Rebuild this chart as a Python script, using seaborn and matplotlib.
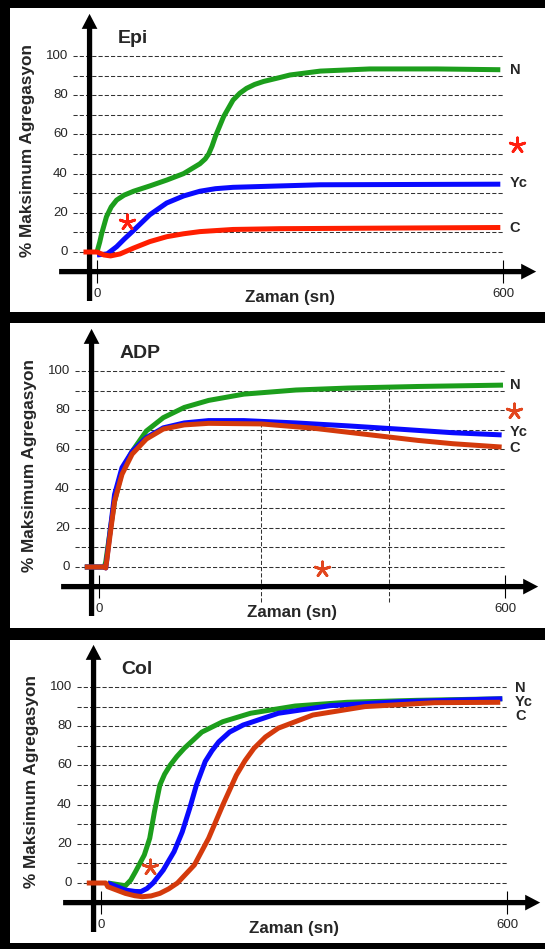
import matplotlib
matplotlib.use("Agg")
import pandas as pd
import matplotlib.pyplot as plt
import seaborn as sns

sns.set_style("white")
plt.rcParams['font.family'] = ['Liberation Sans', 'DejaVu Sans']

# -----------------------------
# Data (time in s, % maximum aggregation)
# -----------------------------
epi_n_t = [0, 4, 7, 14, 21, 29, 40, 54, 78, 103, 128, 152, 160, 165, 170, 175, 187, 201, 211, 221, 233, 246, 270, 285, 330, 403, 502, 596]
epi_n_v = [0, 5, 9.5, 18, 23, 26.5, 29, 31, 33.7, 36.7, 40, 45, 47.5, 50, 54, 59, 69, 77.5, 81, 83.5, 85.5, 87, 89, 90.3, 92.3, 93.4, 93.4, 93]
epi_yc_t = [0, 15, 29, 40, 54, 78, 103, 128, 152, 175, 201, 270, 330, 596]
epi_yc_v = [-1.5, -1, 2.7, 6.5, 11, 19, 25, 28.6, 31, 32.3, 33, 33.7, 34.3, 34.6]
epi_c_t = [-20, 0, 10, 20, 34, 54, 78, 103, 128, 152, 201, 270, 596]
epi_c_v = [0, 0, -1.5, -2, -1, 2, 5.3, 7.8, 9.3, 10.4, 11.5, 11.9, 12.5]

adp_n_t = [-21, 8, 10, 17, 23, 34, 49, 70, 95, 126, 162, 214, 291, 368, 471, 597]
adp_n_v = [0, 0, 2.7, 19.8, 33.5, 49, 59, 69.4, 76.2, 81.4, 85, 88.2, 90.3, 91.3, 92.1, 92.8]
adp_yc_t = [-21, 8, 10, 17, 23, 34, 49, 70, 95, 126, 162, 214, 291, 368, 445, 523, 595]
adp_yc_v = [0, 0, -0.5, 20, 37, 50.7, 59, 66, 71, 73.5, 74.7, 74.7, 73.5, 72, 70.3, 68.5, 67.4]
adp_c_t = [-21, 8, 10, 17, 23, 34, 49, 70, 95, 126, 162, 240, 317, 394, 471, 523, 595]
adp_c_v = [0, 0, -0.5, 18, 33.5, 47.3, 57.6, 65.3, 70.4, 72.5, 73.3, 73, 70.8, 67.7, 64.6, 62.9, 61.2]

col_n_t = [10, 25, 36, 44, 51, 64, 72, 79, 87, 94, 102, 112, 123, 149, 180, 221, 287, 364, 467, 593]
col_n_v = [0, -0.8, -1.4, 1.5, 5.8, 14.3, 22.8, 36.4, 50, 55.5, 60, 64.5, 68.7, 77, 82.3, 86.6, 90.3, 92.2, 93.2, 94]
col_yc_t = [10, 36, 50, 59, 68, 77, 92, 108, 120, 131, 141, 154, 164, 174, 190, 210, 262, 339, 441, 593]
col_yc_v = [0, -3.6, -4.3, -4.4, -2.8, 0, 6.6, 16, 26, 38, 50, 62, 67.5, 72, 77, 80.6, 86.6, 90.5, 92.5, 94]
col_c_t = [-21, 7, 10, 36, 50, 61, 74, 87, 100, 113, 138, 159, 180, 200, 213, 226, 243, 262, 313, 390, 493, 590]
col_c_v = [0, 0, -1.9, -5.3, -6.5, -7, -6.6, -5.3, -3, 0, 9.2, 22.8, 39.8, 55, 62.5, 68.7, 74.5, 79, 85.7, 90, 92, 92.2]

groups = ["N", "Yc", "C"]
y_ticks = [0, 20, 40, 60, 80, 100]
grid_levels = list(range(0, 101, 10))

# asterisks (time, value)
epi_stars_t = [44, 621]
epi_stars_v = [15.3, 54.6]
adp_stars_t = [329, 613]
adp_stars_v = [-1, 79.5]
col_stars_t = [72]
col_stars_v = [8.2]

# end labels
epi_label_v = [93, 35, 12]
adp_label_v = [92.8, 68.7, 60.5]
col_label_v = [99.5, 92.3, 85.2]

GREEN = "#1c9e1c"
BLUE = "#0a0aff"

# -----------------------------
# Layout (pixels of the 545x949 canvas)
# -----------------------------
W, H = 545, 949
PX_S = 0.6767   # px per second
PX_V = 1.96     # px per % unit

fig = plt.figure(figsize=(5.45, 9.49), dpi=100, facecolor="black")


def make_axes(top, bottom, x0, v0):
    ax = fig.add_axes([10 / W, 1 - bottom / H, 535 / W, (bottom - top) / H])
    ax.set_xlim((10 - x0) / PX_S, (545 - x0) / PX_S)
    ax.set_ylim((v0 - bottom) / PX_V, (v0 - top) / PX_V)
    ax.set_facecolor("white")
    ax.set_xticks([])
    ax.set_yticks([])
    for sp in ax.spines.values():
        sp.set_visible(False)
    return ax


def draw_panel(ax, title, series, red, star_color, stars_t, stars_v, label_x, label_v, vlines=None):
    # dashed grid
    ax.hlines(grid_levels, -35, 602, colors="#333333", lw=0.75, ls=(0, (4, 2)), zorder=1)
    if vlines:
        for xv, top in vlines:
            ax.vlines(xv, -18, top, colors="#333333", lw=0.75, ls=(0, (4, 2)), zorder=1)

    # axes arrows
    style = "simple,head_length=1.08,head_width=1.13,tail_width=0.38"
    ax.annotate("", xy=(-11, 121.5), xytext=(-11, -25),
                arrowprops=dict(arrowstyle=style, mutation_scale=10, fc="black", ec="none",
                                shrinkA=0, shrinkB=0), zorder=2)
    ax.annotate("", xy=(649, -10), xytext=(-56, -10),
                arrowprops=dict(arrowstyle=style, mutation_scale=10, fc="black", ec="none",
                                shrinkA=0, shrinkB=0), zorder=2)
    ax.vlines([0, 600], -16, -4, colors="black", lw=0.8, zorder=2)

    # tick labels and axis titles
    for t in y_ticks:
        ax.text(-43, t, str(t), ha="right", va="center", fontsize=9.5)
    ax.text(0, -21.5, "0", ha="center", va="center", fontsize=9.5)
    ax.text(600, -21.5, "600", ha="center", va="center", fontsize=9.5)
    ax.text(-103, 52, "% Maksimum Agregasyon", rotation=90, ha="center", va="center",
            fontsize=12.4, fontweight="bold")
    ax.text(285, -23, "Zaman (sn)", ha="center", va="center", fontsize=12.2, fontweight="bold")
    ax.text(30, 109, title, ha="left", va="center", fontsize=14, fontweight="bold")

    # curves
    rows = []
    for g, (tt, vv) in zip(groups, series):
        rows += [{"t": a, "v": b, "g": g} for a, b in zip(tt, vv)]
    df = pd.DataFrame(rows)
    sns.lineplot(data=df, x="t", y="v", hue="g", hue_order=groups,
                 palette={"N": GREEN, "Yc": BLUE, "C": red}, estimator=None, sort=False,
                 lw=3.6, legend=False, ax=ax, zorder=3,
                 solid_joinstyle="round", solid_capstyle="butt")
    ax.set_xlabel("")
    ax.set_ylabel("")

    # group labels and asterisks
    for g, v in zip(groups, label_v):
        ax.text(label_x, v, g, ha="left", va="center", fontsize=10.5, fontweight="bold")
    ax.scatter(stars_t, stars_v, marker=(5, 2, 0), s=120, color=star_color, lw=2.0, zorder=4)


ax1 = make_axes(8, 312, 97, 252)
draw_panel(ax1, "Epi", [(epi_n_t, epi_n_v), (epi_yc_t, epi_yc_v), (epi_c_t, epi_c_v)],
           "#ff1e00", "#ff2010", epi_stars_t, epi_stars_v, 610, epi_label_v)

ax2 = make_axes(323, 628, 99, 567)
draw_panel(ax2, "ADP", [(adp_n_t, adp_n_v), (adp_yc_t, adp_yc_v), (adp_c_t, adp_c_v)],
           "#d43a0c", "#e2461e", adp_stars_t, adp_stars_v, 607, adp_label_v,
           vlines=[(240, 73), (428, 92.5)])

ax3 = make_axes(640, 943, 101, 883)
draw_panel(ax3, "Col", [(col_n_t, col_n_v), (col_yc_t, col_yc_v), (col_c_t, col_c_v)],
           "#d43a0c", "#e2461e", col_stars_t, col_stars_v, 612, col_label_v)

fig.savefig("out.png", dpi=100, facecolor="black")
